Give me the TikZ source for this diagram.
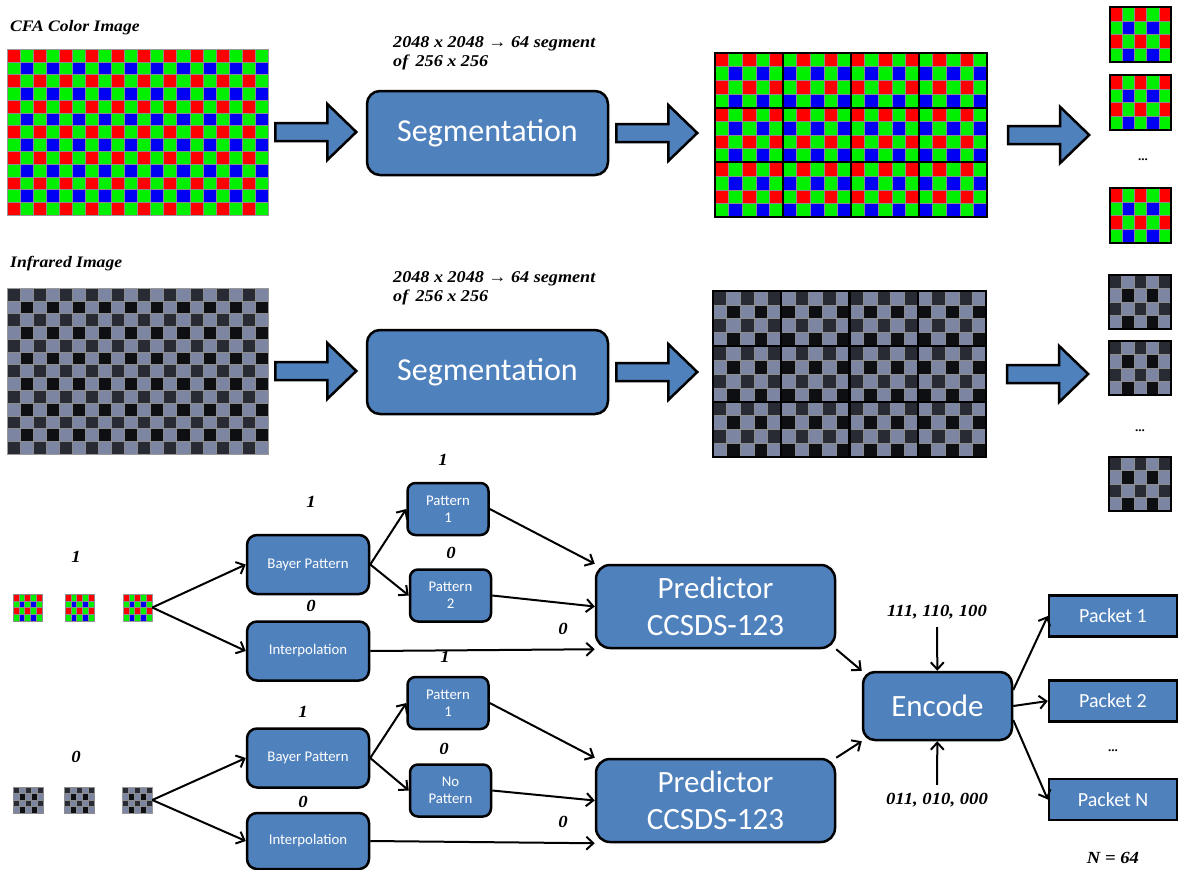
\documentclass[tikz,border=0pt]{standalone}
\usepackage{fontspec}
\newfontfamily\calfont{Carlito}
\newfontfamily\capfont[FakeStretch=1.1]{Liberation Serif}
\usetikzlibrary{positioning, arrows.meta, calc}

\definecolor{boxblue}{HTML}{4F81BD}
\definecolor{cfa0}{HTML}{FF0000}
\definecolor{cfa1}{HTML}{00F000}
\definecolor{cfa2}{HTML}{00F000}
\definecolor{cfa3}{HTML}{0000F5}
\definecolor{ir0}{HTML}{282B33}
\definecolor{ir1}{HTML}{7C86A2}
\definecolor{ir2}{HTML}{7C86A2}
\definecolor{ir3}{HTML}{0E0F13}

% mosaic of 2x2 filter cells: palette, x, y, cols, rows, cell w, cell h
\newcommand{\mosaic}[7]{%
  \foreach \i in {1,...,#4}
    \foreach \j in {1,...,#5} {
      \pgfmathtruncatemacro\k{mod(\i-1,2)+2*mod(\j-1,2)}
      \filldraw[fill=#1\k, draw=black!45, line width=0.4pt]
        ({#2+#6*(\i-1)},{#3+#7*(\j-1)}) rectangle ++(#6,#7);
    }}

% fat block arrow leaving a node to the right: [gap]{node}
\newcommand{\bigarrow}[2][7]{%
  \filldraw[bigarr] ($(#2.east)+(#1,-9)$) -- ++(52,0) -- ++(0,-19)
    -- ++(29,28) -- ++(-29,28) -- ++(0,-19) -- ++(-52,0) -- cycle;}

\begin{document}
\begin{tikzpicture}[
  x=1pt, y=-1pt,
  >={Straight Barb[length=7pt,width=13pt]}
]
\tikzset{
  box/.style    ={draw=black, line width=2.5pt, fill=boxblue, text=white,
                  align=center, inner sep=0pt},
  seg/.style    ={box, rounded corners=13pt, minimum width=241pt,
                  minimum height=84pt,
                  font=\calfont\fontsize{32}{38}\selectfont},
  stage/.style  ={box, rounded corners=10pt, minimum width=122pt,
                  minimum height=59pt,
                  font=\calfont\fontsize{14.8}{17}\selectfont},
  pat/.style    ={box, rounded corners=8pt, minimum width=81pt,
                  minimum height=52pt,
                  font=\calfont\fontsize{14.8}{17}\selectfont},
  pred/.style   ={box, rounded corners=14pt, minimum width=239pt,
                  minimum height=83pt,
                  font=\calfont\fontsize{31}{37}\selectfont},
  enc/.style    ={box, rounded corners=12pt, minimum width=149pt,
                  minimum height=68pt,
                  font=\calfont\fontsize{31}{37}\selectfont},
  packet/.style ={box, minimum width=128pt, minimum height=41pt,
                  font=\calfont\fontsize{20}{24}\selectfont},
  bit/.style    ={font=\capfont\bfseries\itshape\fontsize{17}{20}\selectfont,
                  inner sep=1pt},
  title/.style  ={font=\capfont\bfseries\itshape\fontsize{16}{19}\selectfont,
                  inner sep=0pt, anchor=west},
  cut/.style    ={font=\capfont\bfseries\itshape\fontsize{16.5}{19.5}\selectfont,
                  inner sep=0pt, anchor=north west, align=left},
  dots/.style   ={font=\capfont\bfseries\fontsize{12}{14}\selectfont,
                  inner sep=0pt},
  frame/.style  ={draw=black!40, line width=0.6pt, inner sep=0pt},
  tileedge/.style={draw=black, line width=2.2pt},
  bigarr/.style ={fill=boxblue, draw=black, line width=2.5pt,
                  line join=miter},
  arr/.style    ={->, line width=2pt}
}
\useasboundingbox (0,0) rectangle (1181,870);

%% ----- CFA colour image row -----
\node[title] (cfatitle) at (10,28) {CFA Color Image};
\mosaic{cfa}{7}{49}{20}{13}{13.05}{12.77}
\node[frame, minimum width=261pt, minimum height=166pt] (cfa) at (137.5,132) {};

\node[seg] (seg1) at (487.5,133) {Segmentation};
\node[cut] (cut1) at (393,36) {2048 x 2048 → 64 segment\\of\, 256 x 256};

\mosaic{cfa}{715}{53}{20}{12}{13.6}{13.67}
\foreach \c in {0,...,3}
  \foreach \r in {0,...,2}
    \draw[tileedge] ({715+68*\c},{53+54.67*\r}) rectangle ++(68,54.67);
\node[inner sep=0pt, minimum width=272pt, minimum height=164pt] (cfagrid)
  at (851,135) {};

\foreach \y in {7, 75, 188} {
  \mosaic{cfa}{1110}{\y}{5}{4}{12.2}{13.75}
  \draw[draw=black, line width=1.6pt] (1110,\y) rectangle ++(61,55);
}
\node[dots] (cfadots) at (1143,160) {...};

\bigarrow{cfa}
\bigarrow{seg1}
\bigarrow[21]{cfagrid}

%% ----- Infrared image row -----
\node[title] (irtitle) at (10,264) {Infrared Image};
\mosaic{ir}{7}{288}{20}{13}{13.05}{12.77}
\node[frame, minimum width=261pt, minimum height=166pt] (irimg) at (137.5,371) {};

\node[seg] (seg2) at (487.5,372) {Segmentation};
\node[cut] (cut2) at (393,271) {2048 x 2048 → 64 segment\\of\, 256 x 256};

\mosaic{ir}{713}{291}{20}{12}{13.65}{13.83}
\foreach \c in {0,...,3}
  \foreach \r in {0,...,2}
    \draw[tileedge] ({713+68.25*\c},{291+55.33*\r}) rectangle ++(68.25,55.33);
\node[inner sep=0pt, minimum width=273pt, minimum height=166pt] (irgrid)
  at (849.5,374) {};

\foreach \y in {275, 341, 457} {
  \mosaic{ir}{1109}{\y}{5}{4}{12.4}{13.5}
  \draw[draw=black, line width=1.6pt] (1109,\y) rectangle ++(62,54);
}
\node[dots] (irdots) at (1140,431) {...};

\bigarrow{irimg}
\bigarrow{seg2}
\bigarrow[21]{irgrid}

%% ----- Colour segment path -----
\foreach \x in {13, 65, 123}
  \mosaic{cfa}{\x}{594}{5}{4}{5.8}{6.75}
\node[frame, minimum width=29pt, minimum height=27pt] (ctile) at (137.5,607.5) {};
\node[bit] (cbit) at (76,557) {1};

\node[stage] (bayer1) at (308,564.5) {Bayer Pattern};
\node[stage, below=25pt of bayer1] (interp1) {Interpolation};
\node[bit] (b1) at (311,502) {1};
\node[bit] (b0) at (311,606) {0};

\node[pat] (pat1a) at (448,509) {Pattern\\1};
\node[pat] (pat2a) at (450.5,595.5) {Pattern\\2};
\node[bit] (p1bit) at (443,460) {1};
\node[bit] (p2bit) at (451,553) {0};
\node[bit] (i1bit) at (563,629) {0};

\node[pred] (pred1) at (715.5,606.5) {Predictor\\CCSDS-123};

\draw[arr] (ctile.east) -- (bayer1.west);
\draw[arr] (ctile.east) -- (interp1.west);
\draw[arr] (bayer1.east) -- (pat1a.west);
\draw[arr] (bayer1.east) -- (pat2a.west);
\draw[arr] (pat1a.east) -- (pred1.north west);
\draw[arr] (pat2a.east) -- (pred1.west);
\draw[arr] (interp1.east) -- (pred1.south west);

%% ----- Infrared segment path -----
\foreach \x in {13, 64, 122}
  \mosaic{ir}{\x}{787}{5}{4}{6}{6.5}
\node[frame, minimum width=30pt, minimum height=26pt] (gtile) at (137,800) {};
\node[bit] (gbit) at (76,757) {0};

\node[stage] (bayer2) at (308,758) {Bayer Pattern};
\node[stage, minimum height=56pt] (interp2) at (308,841) {Interpolation};
\node[bit] (b1b) at (303,712) {1};
\node[bit] (b0b) at (303,802) {0};

\node[pat] (pat1b) at (448,703) {Pattern\\1};
\node[pat] (nopat) at (450.5,790.5) {No\\Pattern};
\node[bit] (p1bitb) at (445,657) {1};
\node[bit] (p0bitb) at (444,749) {0};
\node[bit] (i2bit) at (563,822) {0};

\node[pred] (pred2) at (715.5,800.5) {Predictor\\CCSDS-123};

\draw[arr] (gtile.east) -- (bayer2.west);
\draw[arr] (gtile.east) -- (interp2.west);
\draw[arr] (bayer2.east) -- (pat1b.west);
\draw[arr] (bayer2.east) -- (nopat.west);
\draw[arr] (pat1b.east) -- (pred2.north west);
\draw[arr] (nopat.east) -- (pred2.west);
\draw[arr] (interp2.east) -- (pred2.south west);

%% ----- Encoder and packets -----
\node[enc] (enc) at (937.5,706) {Encode};
\node[bit] (code1) at (937,612) {111, 110, 100};
\node[bit] (code0) at (937,800) {011, 010, 000};
\draw[arr] (pred1.south east) -- (enc.north west);
\draw[arr] (pred2.north east) -- (enc.south west);
\draw[arr, shorten <=7pt] (code1) -- (enc);
\draw[arr, shorten <=7pt] (code0) -- (enc);

\node[packet] (pk1) at (1113,616) {Packet 1};
\node[packet] (pk2) at (1113,701) {Packet 2};
\node[packet] (pkN) at (1113,799.5) {Packet N};
\node[dots] (pkdots) at (1113,751) {...};
\node[bit] (nlbl) at (1113,858) {N = 64};

\draw[arr] ([yshift=16pt]enc.east) -- (pk1.west);
\draw[arr] (enc.east) -- (pk2.west);
\draw[arr] ([yshift=-14pt]enc.east) -- (pkN.west);

\end{tikzpicture}
\end{document}
